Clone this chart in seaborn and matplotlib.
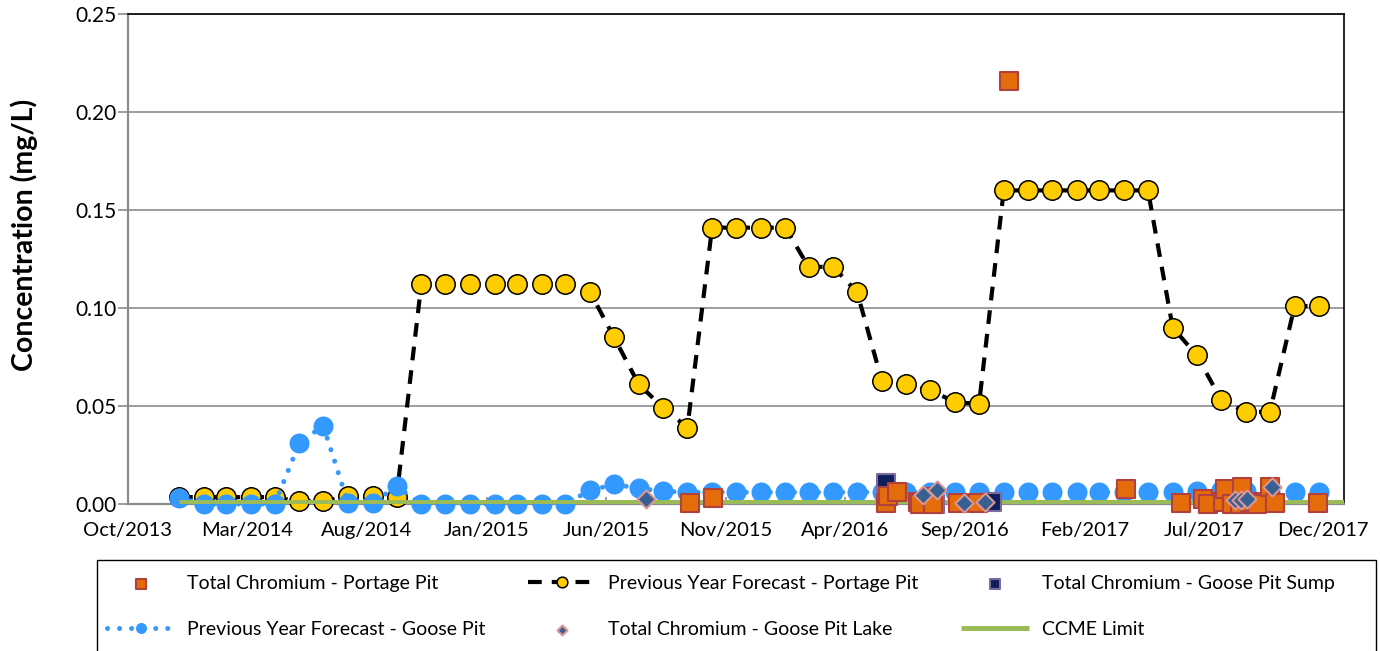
import matplotlib
matplotlib.use("Agg")
import matplotlib.pyplot as plt
import matplotlib.dates as mdates
import matplotlib.ticker as mticker
from matplotlib.patches import Rectangle
import pandas as pd
import seaborn as sns

# ---------------- data ----------------
# monthly forecasts (month-end dates, Dec 2013 .. Nov 2017)
portage_forecast = [0.0035, 0.0035, 0.0035, 0.0035, 0.0035, 0.0013, 0.0013, 0.004, 0.004, 0.0035,
                    0.112, 0.112, 0.112, 0.112, 0.112, 0.112, 0.112,
                    0.108, 0.085, 0.061, 0.049, 0.039,
                    0.141, 0.141, 0.141, 0.141,
                    0.121, 0.121, 0.108, 0.063, 0.061, 0.058, 0.052, 0.051,
                    0.160, 0.160, 0.160, 0.160, 0.160, 0.160, 0.160,
                    0.090, 0.076, 0.053, 0.047, 0.047, 0.101, 0.101]
goose_forecast = [0.003, 0.0, 0.0, 0.0, 0.0, 0.031, 0.040, 0.0005, 0.0005, 0.009,
                  0.0, 0.0, 0.0, 0.0, 0.0, 0.0, 0.0,
                  0.007, 0.010, 0.008, 0.0065, 0.006,
                  0.006, 0.006, 0.006, 0.006,
                  0.006, 0.006, 0.006, 0.006, 0.006, 0.006, 0.006, 0.006,
                  0.006, 0.006, 0.006, 0.006, 0.006, 0.006, 0.006,
                  0.006, 0.0065, 0.007, 0.0065, 0.006, 0.006, 0.006]

portage_dates = ["2015-10-03", "2015-11-01", "2016-06-05", "2016-06-08", "2016-06-19",
                 "2016-07-15", "2016-07-18", "2016-08-02", "2016-08-03", "2016-09-04",
                 "2016-09-29", "2016-11-07", "2017-04-02", "2017-06-10", "2017-07-08",
                 "2017-07-14", "2017-08-02", "2017-08-05", "2017-08-13", "2017-08-24",
                 "2017-08-26", "2017-09-05", "2017-09-14", "2017-09-30", "2017-10-06",
                 "2017-11-29"]
portage_values = [0.0007, 0.003, 0.0005, 0.004, 0.006,
                  0.001, 0.0, 0.0035, 0.0, 0.0005,
                  0.0005, 0.2158, 0.0077, 0.0005, 0.0025,
                  0.0, 0.001, 0.0077, 0.0, 0.0,
                  0.0087, 0.001, 0.0, 0.0087, 0.0005,
                  0.0005]

sump_dates = ["2016-06-05", "2016-08-06", "2016-10-16"]
sump_values = [0.0107, 0.0, 0.001]

lake_dates = ["2015-08-09", "2016-07-22", "2016-08-08", "2016-09-11", "2016-10-07",
              "2017-08-17", "2017-08-25", "2017-09-01", "2017-10-03"]
lake_values = [0.0028, 0.0045, 0.007, 0.0005, 0.001,
               0.002, 0.002, 0.0025, 0.0085]

ccme_dates = ["2013-12-31", "2018-02-01"]
ccme_values = [0.001, 0.001]

x_start = "2013-10-28"
x_end = "2018-01-01"
tick_step_days = 150
n_ticks = 11
y_ticks = [0.00, 0.05, 0.10, 0.15, 0.20, 0.25]

labels = {
    "pp": "Total Chromium - Portage Pit",
    "ppf": "Previous Year Forecast - Portage Pit",
    "gs": "Total Chromium - Goose Pit Sump",
    "gpf": "Previous Year Forecast - Goose Pit",
    "gl": "Total Chromium - Goose Pit Lake",
    "cc": "CCME Limit",
}

# ---------------- figure ----------------
sns.set_theme(style="white")
plt.rcParams["font.family"] = ["Lato", "DejaVu Sans"]
plt.rcParams["text.color"] = "black"
plt.rcParams["axes.labelcolor"] = "black"

fig = plt.figure(figsize=(13.8, 6.51), dpi=100)
ax = fig.add_axes([128 / 1380, 1 - 504 / 651, 1216 / 1380, 490 / 651])

forecast_dates = pd.date_range("2014-01-01", periods=len(portage_forecast), freq="MS") - pd.Timedelta(days=1)

sns.lineplot(x=forecast_dates, y=portage_forecast, ax=ax, color="black", linewidth=3.0,
             linestyle=(0, (3.3, 2.4)), marker="o", markersize=14,
             markerfacecolor="#FFCC00", markeredgecolor="black", markeredgewidth=1.1,
             label=labels["ppf"], zorder=3, clip_on=False)

sns.lineplot(x=forecast_dates, y=goose_forecast, ax=ax, color="#3399FF", linewidth=3.6,
             linestyle=(0, (0.01, 2.4)), dash_capstyle="round", marker="o", markersize=14.4,
             markerfacecolor="#3399FF", markeredgewidth=0,
             label=labels["gpf"], zorder=3.5, clip_on=False)

sns.lineplot(x=pd.to_datetime(ccme_dates), y=ccme_values, ax=ax, color="#9BBB59",
             linewidth=3.6, solid_capstyle="butt", label=labels["cc"], zorder=4)

sns.scatterplot(x=pd.to_datetime(sump_dates), y=sump_values, ax=ax, marker="s", s=169,
                color="#0E1F5B", edgecolor="#7F6A9E", linewidth=1.5,
                label=labels["gs"], zorder=5, clip_on=False)

sns.scatterplot(x=pd.to_datetime(portage_dates), y=portage_values, ax=ax, marker="s", s=169,
                color="#E46C0A", edgecolor="#B0413E", linewidth=1.5,
                label=labels["pp"], zorder=6, clip_on=False)

sns.scatterplot(x=pd.to_datetime(lake_dates), y=lake_values, ax=ax, marker="D", s=85,
                color="#376092", edgecolor="#D99694", linewidth=1.5,
                label=labels["gl"], zorder=7, clip_on=False)

# axes
x0 = pd.Timestamp(x_start)
ax.set_xlim(mdates.date2num(x0), mdates.date2num(pd.Timestamp(x_end)))
ax.set_ylim(0, 0.25)
ticks = [mdates.date2num(x0 + pd.Timedelta(days=tick_step_days * k)) for k in range(n_ticks)]
ax.set_xticks(ticks)
ax.xaxis.set_major_formatter(mdates.DateFormatter("%b/%Y"))
ax.set_yticks(y_ticks)
ax.yaxis.set_major_formatter(mticker.FormatStrFormatter("%.2f"))

ax.grid(axis="y", color="#8C8C8C", linewidth=1.2)
ax.grid(axis="x", visible=False)
ax.set_axisbelow(True)
ax.tick_params(axis="y", direction="out", length=7, width=1.2, color="#8C8C8C",
               labelsize=15, pad=1.5, labelcolor="black", left=True)
ax.tick_params(axis="x", direction="in", length=5, width=1.2, color="#8C8C8C",
               labelsize=14.5, pad=13, labelcolor="black", bottom=True)

for side in ("left", "bottom"):
    ax.spines[side].set_color("#8C8C8C")
    ax.spines[side].set_linewidth(1.6)
for side in ("top", "right"):
    ax.spines[side].set_color("black")
    ax.spines[side].set_linewidth(1.2)

ax.set_xlabel("")
ax.set_ylabel("Concentration (mg/L)", fontsize=20.5, fontweight="bold", color="black")
ax.yaxis.set_label_coords(-0.074, 0.549)

# legend (row-major order), frame drawn as a separate box
h, l = ax.get_legend_handles_labels()
hmap = dict(zip(l, h))
order = [labels["pp"], labels["gpf"], labels["ppf"], labels["gl"], labels["gs"], labels["cc"]]
if ax.get_legend() is not None:
    ax.get_legend().remove()
fig.legend([hmap[k] for k in order], order, loc="upper left",
           bbox_to_anchor=(107 / 1380, 1 - 575 / 651),
           ncol=3, fontsize=14, handlelength=3.5, handletextpad=0.62,
           columnspacing=2.2, borderpad=0, labelspacing=1.5, markerscale=0.55,
           numpoints=1, frameon=False, borderaxespad=0, labelcolor="black")
fig.add_artist(Rectangle((97 / 1380, -0.02), (1376 - 97) / 1380, 0.1398 + 0.02,
                         transform=fig.transFigure, fill=False, edgecolor="black",
                         linewidth=1.0))

fig.savefig("out.png", dpi=100)
